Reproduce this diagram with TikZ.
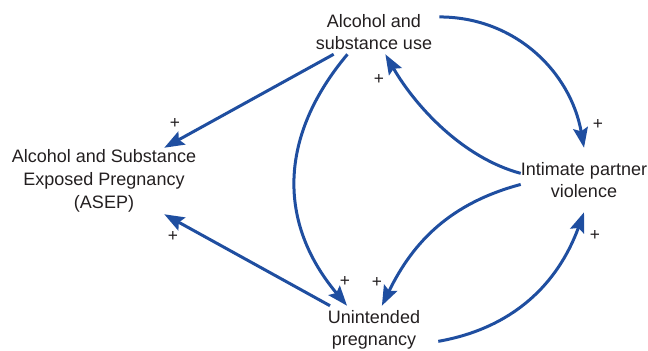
\documentclass[tikz,border=0pt]{standalone}
\usepackage{fontspec}
\setmainfont{Liberation Sans}
\usetikzlibrary{arrows.meta}
\definecolor{linkblue}{RGB}{31,78,160}
\definecolor{txt}{RGB}{35,31,32}
\begin{document}
\begin{tikzpicture}[x=0.75pt,y=-0.75pt,
  concept/.style={rectangle,inner sep=0pt,align=center,text=txt,
    font=\fontsize{13.5pt}{17pt}\selectfont},
  link/.style={draw=linkblue,line width=2.25pt,
    -{Stealth[length=15pt,width=11pt,inset=2.5pt]}},
  pol/.style={text=txt,font=\fontsize{13pt}{15pt}\selectfont,inner sep=0pt}]
\useasboundingbox (0,0) rectangle (648,350);
\node[concept,minimum width=130*0.75pt,minimum height=44*0.75pt] (alc) at (374,32) {Alcohol and\\substance use};
\node[concept,minimum width=190*0.75pt,minimum height=66*0.75pt] (asep) at (104,181) {Alcohol and Substance\\Exposed Pregnancy\\(ASEP)};
\node[concept,minimum width=126*0.75pt,minimum height=64*0.75pt] (ipv) at (584,180) {Intimate partner\\violence};
\node[concept,minimum width=128*0.75pt,minimum height=48*0.75pt] (unint) at (374,330) {Unintended\\pregnancy};

\draw[link] (alc) -- (asep);
\draw[link] (unint) -- (asep);
\draw[link] (alc.220) to[out=230,in=130,looseness=1.1] (unint.138);
\draw[link] (alc.13) to[out=0,in=100] (ipv.north);
\draw[link] (ipv.174) to[out=165,in=-60,looseness=0.85] (alc.297);
\draw[link] (ipv.184) to[out=195,in=64] (unint.72);
\draw[link] (unint.-10.6) to[out=10,in=250] (ipv.south);

\node[pol] (p1) at (175,123) {+};
\node[pol] (p2) at (173,236) {+};
\node[pol] (p3) at (345,281) {+};
\node[pol] (p4) at (377,282) {+};
\node[pol] (p5) at (379,79) {+};
\node[pol] (p6) at (598,124) {+};
\node[pol] (p7) at (595,235) {+};
\end{tikzpicture}
\end{document}
